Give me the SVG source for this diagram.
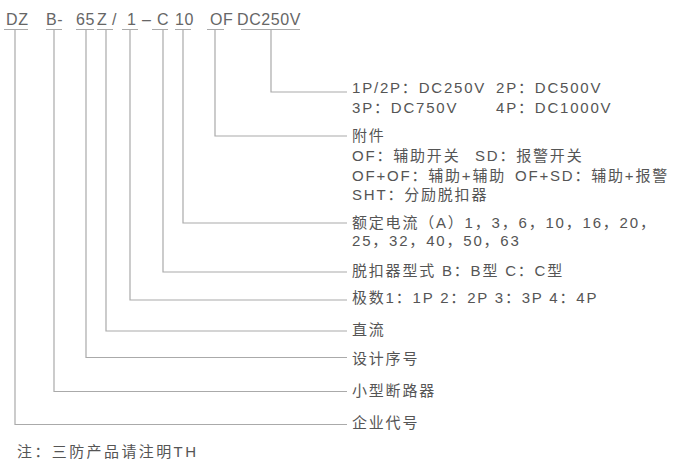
<svg xmlns="http://www.w3.org/2000/svg" width="684" height="462" viewBox="0 0 684 462">
<style>
text{font-family:"Liberation Sans","Noto Sans CJK SC",sans-serif;font-size:15px;fill:#555;letter-spacing:1.8px}
.code{font-size:16px;fill:#666;letter-spacing:0.6px}
.note{letter-spacing:2.4px}
.c path{fill:none;stroke:#aaa;stroke-width:1.2}
</style>
<rect width="684" height="462" fill="#fff"/>
<g id="code">
<text class="code" x="6" y="25">DZ</text>
<text class="code" x="46" y="25">B-</text>
<text class="code" x="76" y="25">65</text>
<text class="code" x="97" y="25">Z</text>
<text class="code" x="112" y="25">/</text>
<text class="code" x="127" y="25">1</text>
<text class="code" x="142" y="25">–</text>
<text class="code" x="157" y="25">C</text>
<text class="code" x="175" y="25">10</text>
<text class="code" x="210" y="25">OF</text>
<text class="code" x="237" y="25">DC250V</text>
</g>
<g id="connectors" class="c">
<path d="M4 29.5H28M15 29.5V424.5H347"/>
<path d="M46 29.5H62M54 29.5V391.5H347"/>
<path d="M76 29.5H94M86 29.5V357.5H347"/>
<path d="M97 29.5H113M106 29.5V331H347"/>
<path d="M122 29.5H138M130 29.5V300H347"/>
<path d="M152 29.5H168M163 29.5V272H347"/>
<path d="M175 29.5H191M183 29.5V223H347"/>
<path d="M207 29.5H224M215 29.5V136H347"/>
<path d="M241 29.5H300M271 29.5V92H347"/>
</g>
<g id="voltage">
<text x="352" y="93">1P/2P：DC250V<tspan x="496">2P：DC500V</tspan></text>
<text x="352" y="113">3P：DC750V<tspan x="496">4P：DC1000V</tspan></text>
</g>
<g id="accessory">
<text x="352" y="141">附件</text>
<text x="352" y="161">OF：辅助开关<tspan x="475">SD：报警开关</tspan></text>
<text x="352" y="181">OF+OF：辅助+辅助<tspan x="515">OF+SD：辅助+报警</tspan></text>
<text x="352" y="200">SHT：分励脱扣器</text>
</g>
<g id="current">
<text x="352" y="228">额定电流（A）1，3，6，10，16，20，</text>
<text x="352" y="246">25，32，40，50，63</text>
</g>
<g id="trip"><text x="352" y="276">脱扣器型式 B：B型 C：C型</text></g>
<g id="poles"><text x="352" y="303">极数1：1P 2：2P 3：3P 4：4P</text></g>
<g id="dc"><text x="352" y="335">直流</text></g>
<g id="design"><text x="352" y="364">设计序号</text></g>
<g id="mcb"><text x="352" y="396">小型断路器</text></g>
<g id="company"><text x="352" y="428">企业代号</text></g>
<g id="note"><text class="note" x="17" y="457">注：三防产品请注明TH</text></g>
</svg>
